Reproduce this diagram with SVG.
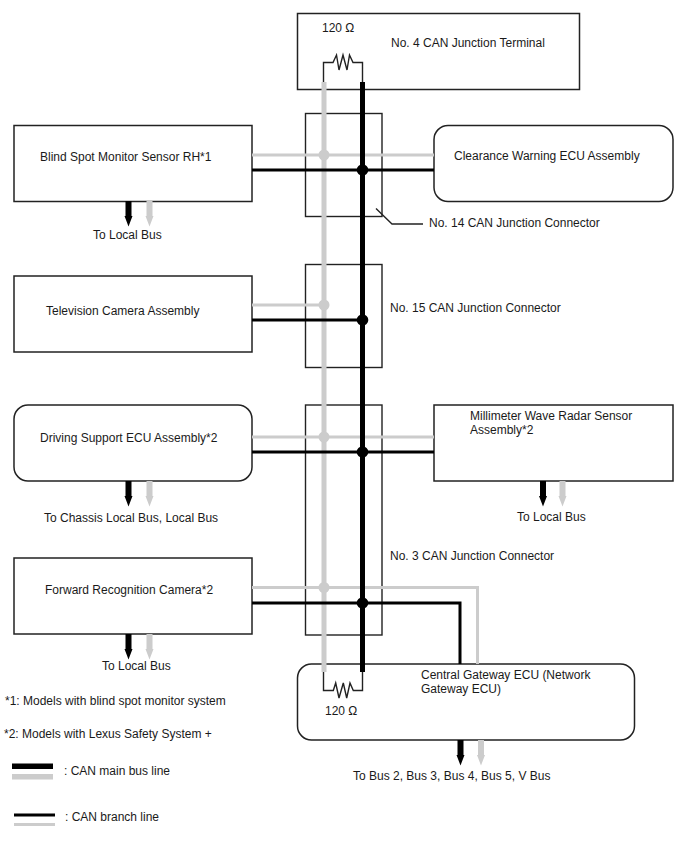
<svg xmlns="http://www.w3.org/2000/svg" width="688" height="852" viewBox="0 0 688 852">
<style>
text{font-family:"Liberation Sans",Arial,sans-serif;font-size:12px;fill:#1a1a1a}
.box{fill:#fff;stroke:#222;stroke-width:1.5}
.frame{fill:none;stroke:#222;stroke-width:1.4}
.mk{stroke:#000;fill:none}
.mg{stroke:#ccc;fill:none}
.main{stroke-width:5}
.branch{stroke-width:3}
.thin{stroke:#222;stroke-width:1.400;fill:none}
.ak{fill:#000}
.ag{fill:#ccc}
</style>
<defs>
<path id="drop" d="M-3 0H3V15L4 15L0 25.500L-4 15H-3Z"/>
</defs>
<rect width="688" height="852" fill="#fff"/>
<g id="node-terminal"><rect class="box" x="297.500" y="13.500" width="282" height="76"/><text x="391" y="47">No. 4 CAN Junction Terminal</text><text x="322" y="32">120 Ω</text></g>
<g id="node-blind-spot"><rect class="box" x="14" y="125.500" width="238" height="76"/><text x="40" y="161">Blind Spot Monitor Sensor RH*1</text><text x="93" y="239">To Local Bus</text></g>
<g id="node-clearance"><rect class="box" x="434" y="125.500" width="239" height="76" rx="14"/><text x="454" y="160">Clearance Warning ECU Assembly</text></g>
<g id="node-tv"><rect class="box" x="14" y="276" width="238" height="76"/><text x="46" y="315">Television Camera Assembly</text></g>
<g id="node-driving"><rect class="box" x="14" y="405" width="238" height="76" rx="14"/><text x="40" y="442">Driving Support ECU Assembly*2</text><text x="44" y="522">To Chassis Local Bus, Local Bus</text></g>
<g id="node-radar"><rect class="box" x="434" y="405" width="239" height="76"/><text x="470" y="420">Millimeter Wave Radar Sensor</text><text x="470" y="434">Assembly*2</text><text x="517" y="521">To Local Bus</text></g>
<g id="node-camera"><rect class="box" x="14" y="558" width="238" height="76"/><text x="45" y="594">Forward Recognition Camera*2</text><text x="102" y="670">To Local Bus</text></g>
<g id="node-gateway"><rect class="box" x="297.500" y="664" width="337" height="76" rx="14"/><text x="421" y="679">Central Gateway ECU (Network</text><text x="421" y="693">Gateway ECU)</text><text x="325" y="715">120 Ω</text><text x="353" y="780">To Bus 2, Bus 3, Bus 4, Bus 5, V Bus</text></g>
<g id="node-j14"><rect class="frame" x="305.500" y="113.500" width="76.500" height="103"/><text x="429" y="227">No. 14 CAN Junction Connector</text></g>
<g id="node-j15"><rect class="frame" x="305.500" y="264.500" width="76.500" height="103"/><text x="390" y="312">No. 15 CAN Junction Connector</text></g>
<g id="node-j3"><rect class="frame" x="305.500" y="405" width="76.500" height="230"/><text x="390" y="560">No. 3 CAN Junction Connector</text></g>
<g id="connectors">
<path class="mg branch" d="M252 155H434M252 305H324M252 437H434M252 587.500H477.500V664"/>
<path class="mg main" d="M324 82V672"/>
<g class="ag"><circle cx="324" cy="155" r="5.500"/><circle cx="324" cy="305" r="5.500"/><circle cx="324" cy="437" r="5.500"/><circle cx="324" cy="587.500" r="5.500"/></g>
<path class="mk branch" d="M252 170H434M252 320H362M252 452H434M252 603H460V664"/>
<path class="mk main" d="M362.500 82V672"/>
<g class="ak"><circle cx="362.500" cy="170" r="5.800"/><circle cx="362.500" cy="320" r="5.800"/><circle cx="362.500" cy="452" r="5.800"/><circle cx="362.500" cy="603" r="5.800"/></g>
<path class="thin" d="M323.500 82V62.500H333L336.500 55L339 70L343 55L347 70L349.500 55L353 62.500H362.500V82"/>
<path class="thin" d="M323.500 672V690.500H333.300L335.700 683L339 698L343.300 683L346.700 698L350 683L353.300 690.500H362.500V672"/>
<path class="thin" d="M376 208.500L392 224H423"/>
<g class="ak">
<use href="#drop" x="128.500" y="201"/><use href="#drop" x="128.500" y="481"/><use href="#drop" x="543" y="481"/><use href="#drop" x="128.500" y="634"/><use href="#drop" x="460.500" y="740"/>
</g>
<g class="ag">
<use href="#drop" x="149.500" y="201"/><use href="#drop" x="149.500" y="481"/><use href="#drop" x="562.500" y="481"/><use href="#drop" x="149.500" y="634"/><use href="#drop" x="481" y="740"/>
</g>
</g>
<g id="legend">
<text x="5" y="705">*1: Models with blind spot monitor system</text>
<text x="4" y="738">*2: Models with Lexus Safety System +</text>
<rect x="12" y="763.500" width="41" height="5.500" fill="#000"/><rect x="12" y="774" width="41" height="5.500" fill="#ccc"/>
<text x="64" y="775">: CAN main bus line</text>
<rect x="14" y="813.500" width="41" height="3" fill="#000"/><rect x="14" y="823" width="41" height="3" fill="#ccc"/>
<text x="65" y="821">: CAN branch line</text>
</g>
</svg>
